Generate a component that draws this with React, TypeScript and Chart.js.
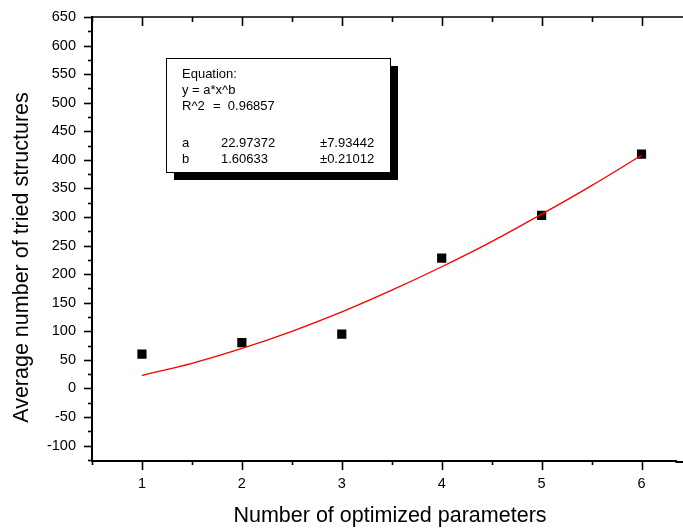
import React, { useEffect, useRef } from "react";
import { Chart, registerables } from "chart.js";

Chart.register(...registerables);

const paramCounts = [1, 2, 3, 4, 5, 6];
const avgTried = [60, 80, 95, 228, 303, 410];
const fitX = [1, 1.5, 2, 2.5, 3, 3.5, 4, 4.5, 5, 5.5, 6];
const fitY = [23, 44, 70, 100, 134, 172, 213, 257, 305, 355, 408];
const equationLines = ["Equation:", "y = a*x^b", "R^2"];
const r2Text = "=  0.96857";
const paramNames = ["a", "b"];
const paramValues = ["22.97372", "1.60633"];
const paramErrors = ["\u00b17.93442", "\u00b10.21012"];
const xTitle = "Number of optimized parameters";
const yTitle = "Average number of tried structures";

const FONT = "'Liberation Sans', Arial, sans-serif";

const decorPlugin = {
  id: "decor",
  afterDraw(chart: any) {
    const { ctx, chartArea: a, scales } = chart;
    const xs = scales.x;
    const ys = scales.y;
    ctx.save();
    ctx.strokeStyle = "#000";
    ctx.lineWidth = 1.6;
    // top border, and bottom border continued to the edge
    ctx.beginPath();
    ctx.moveTo(a.left - 1, a.top);
    ctx.lineTo(chart.width, a.top);
    ctx.stroke();
    ctx.lineWidth = 2;
    ctx.beginPath();
    ctx.moveTo(a.right - 1, a.bottom + 1);
    ctx.lineTo(chart.width, a.bottom + 1);
    ctx.stroke();
    ctx.lineWidth = 1.6;
    // y ticks (outside, left)
    for (let v = -125; v <= 650; v += 25) {
      if (v < ys.min || v > ys.max) continue;
      const py = Math.round(ys.getPixelForValue(v)) + 0.5;
      const major = v % 50 === 0;
      ctx.beginPath();
      ctx.moveTo(a.left, py);
      ctx.lineTo(a.left - (major ? 8 : 4), py);
      ctx.stroke();
    }
    // x ticks (bottom outside, top inside)
    for (let v = 0.5; v <= 7; v += 0.5) {
      if (v < xs.min - 1e-9 || v > xs.max) continue;
      const px = Math.round(xs.getPixelForValue(v)) + 0.5;
      const major = Math.abs(v - Math.round(v)) < 1e-9;
      ctx.beginPath();
      ctx.moveTo(px, a.bottom);
      ctx.lineTo(px, a.bottom + (major ? 9 : 4));
      ctx.moveTo(px, a.top);
      ctx.lineTo(px, a.top + (major ? 9 : 5));
      ctx.stroke();
    }
    // axis titles
    ctx.fillStyle = "#000";
    ctx.font = `21.5px ${FONT}`;
    ctx.textAlign = "center";
    ctx.textBaseline = "alphabetic";
    ctx.fillText(xTitle, 390, 522);
    ctx.save();
    ctx.translate(28, 257.5);
    ctx.rotate(-Math.PI / 2);
    ctx.fillText(yTitle, 0, 0);
    ctx.restore();
    // fit result box
    const bx = a.left + 74;
    const by = a.top + 41;
    const bw = 224;
    const bh = 114;
    ctx.fillStyle = "#000";
    ctx.fillRect(bx + 8, by + 8, bw, bh);
    ctx.fillStyle = "#fff";
    ctx.fillRect(bx, by, bw, bh);
    ctx.lineWidth = 1;
    ctx.strokeStyle = "#000";
    ctx.strokeRect(bx + 0.5, by + 0.5, bw, bh);
    ctx.fillStyle = "#000";
    ctx.font = `13px ${FONT}`;
    ctx.textAlign = "left";
    const tx = bx + 16;
    const baselines = [20, 36, 52];
    equationLines.forEach((t, i) => ctx.fillText(t, tx, by + baselines[i]));
    ctx.fillText(r2Text, bx + 47, by + 52);
    const pBase = [89, 105];
    paramNames.forEach((n, i) => {
      ctx.fillText(n, tx, by + pBase[i]);
      ctx.fillText(paramValues[i], bx + 55, by + pBase[i]);
      ctx.fillText(paramErrors[i], bx + 154, by + pBase[i]);
    });
    ctx.restore();
  },
};

export default function App() {
  const ref = useRef<HTMLCanvasElement>(null);
  useEffect(() => {
    document.body.style.margin = "0";
    const canvas = ref.current!;
    const chart = new Chart(canvas, {
      type: "scatter",
      data: {
        datasets: [
          {
            type: "line",
            data: fitX.map((x, i) => ({ x, y: fitY[i] })),
            borderColor: "#ff0000",
            borderWidth: 1.3,
            pointRadius: 0,
            cubicInterpolationMode: "monotone",
            fill: false,
          } as any,
          {
            data: paramCounts.map((x, i) => ({ x, y: avgTried[i] })),
            pointStyle: "rect",
            pointRadius: 6.5,
            pointBackgroundColor: "#000",
            pointBorderColor: "#000",
            pointBorderWidth: 0,
          },
        ],
      },
      options: {
        animation: false,
        responsive: false,
        devicePixelRatio: 1,
        layout: { padding: { left: 0, top: 17, right: 0, bottom: 0 } },
        plugins: { legend: { display: false }, tooltip: { enabled: false } },
        scales: {
          x: {
            type: "linear",
            min: 0.5,
            max: 6.35,
            afterFit: (s: any) => {
              s.height = 68;
              s.paddingLeft = 0;
              s.paddingRight = 0;
            },
            grid: { display: false, drawTicks: false },
            border: { display: true, color: "#000", width: 2 },
            ticks: {
              stepSize: 1,
              includeBounds: false,
              padding: 14,
              color: "#000",
              font: { family: FONT, size: 14.5 },
              maxRotation: 0,
            },
          },
          y: {
            type: "linear",
            min: -127,
            max: 650,
            afterFit: (s: any) => {
              s.width = 92;
              s.paddingTop = 0;
              s.paddingBottom = 0;
            },
            grid: { display: false, drawTicks: false },
            border: { display: true, color: "#000", width: 2 },
            ticks: {
              stepSize: 50,
              includeBounds: false,
              padding: 16,
              color: "#000",
              font: { family: FONT, size: 14.5 },
            },
          },
        },
      },
      plugins: [decorPlugin],
    });
    return () => chart.destroy();
  }, []);
  return (
    <div style={{ width: 683, height: 529, background: "#fff" }}>
      <canvas ref={ref} width={683} height={529} />
    </div>
  );
}
